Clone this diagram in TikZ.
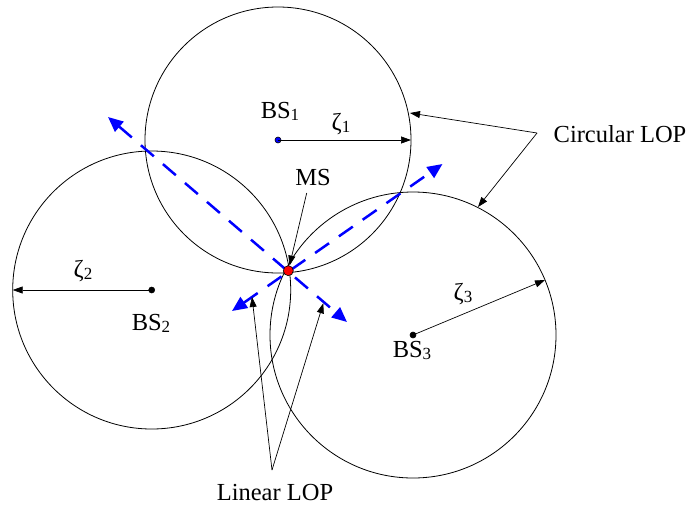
\documentclass[tikz,border=0pt]{standalone}
\usepackage{fontspec}
\setmainfont{Liberation Serif}
\usetikzlibrary{arrows.meta}
\newcommand{\sbs}[1]{\raisebox{-2pt}{\fontsize{17}{19}\selectfont #1}}
\begin{document}
\begin{tikzpicture}[x=1pt,y=-1pt,
  circ/.style={draw=black, line width=0.8pt},
  ptr/.style={draw=black, line width=0.7pt, -{Triangle[length=10pt,width=7pt]}},
  lop/.style={draw=blue, line width=2.5pt, dash pattern=on 17pt off 12pt, {Triangle[length=15pt,width=13pt]}-{Triangle[length=15pt,width=13pt]}},
  dot/.style={circle, draw=black, line width=0.6pt, inner sep=0pt, minimum size=6pt},
  lbl/.style={font=\fontsize{24.5}{28}\selectfont, inner sep=0pt, anchor=base},
  zl/.style={font=\fontsize{24.5}{28}\selectfont, inner sep=0pt}
]
\useasboundingbox (0,0) rectangle (688,507);
% centres
\coordinate (c1) at (278,140);
\coordinate (c2) at (151.7,290);
\coordinate (c3) at (413,335);
\coordinate (msc) at (288.3,270.7);
% circles
\draw[circ] (c1) circle[radius=133pt];
\draw[circ] (c2) circle[radius=139pt];
\draw[circ] (c3) circle[radius=143pt];
% linear LOPs
\coordinate (a1) at (108,117);
\coordinate (a2) at (347,322);
\coordinate (b1) at (232,311);
\coordinate (b2) at (442.5,164);
\draw[lop] (a1) -- (a2);
\draw[lop] (b1) -- (b2);
% dots
\node[dot, fill=blue] (bs1) at (c1) {};
\node[dot, fill=black] (bs2) at (c2) {};
\node[dot, fill=black] (bs3) at (c3) {};
\node[dot, fill=red, minimum size=10pt] (ms) at (msc) {};
% radius arrows
\coordinate (r1) at (411,140);
\coordinate (r2) at (12.7,290);
\coordinate (r3) at (545,280);
\draw[ptr] (bs1.center) -- (r1);
\draw[ptr] (bs2.center) -- (r2);
\draw[ptr] (bs3.center) -- (r3);
% labels
\node[lbl] (l1) at (280,118) {BS\sbs{1}};
\node[lbl] (l2) at (151,330) {BS\sbs{2}};
\node[lbl] (l3) at (412,357) {BS\sbs{3}};
\node[zl] (z1) at (341,124) {ζ\sbs{1}};
\node[zl] (z2) at (83,271) {ζ\sbs{2}};
\node[zl] (z3) at (463,294) {ζ\sbs{3}};
\node[lbl] (msl) at (313,185) {MS};
\node[lbl] (clop) at (620,142) {Circular LOP};
\node[lbl] (llop) at (275,500) {Linear LOP};
% MS pointer
\coordinate (mst) at (306.7,193);
\draw[ptr] (mst) -- (ms);
% circular LOP pointers
\coordinate (cv) at (537,133);
\coordinate (cp1) at (410,113);
\coordinate (cp3) at (478,207);
\draw[ptr] (cv) -- (cp1);
\draw[ptr] (cv) -- (cp3);
% linear LOP pointers
\coordinate (lv) at (272,470);
\coordinate (lp1) at (252,297);
\coordinate (lp2) at (323.3,303.3);
\draw[ptr] (lv) -- (lp1);
\draw[ptr] (lv) -- (lp2);
\end{tikzpicture}
\end{document}
